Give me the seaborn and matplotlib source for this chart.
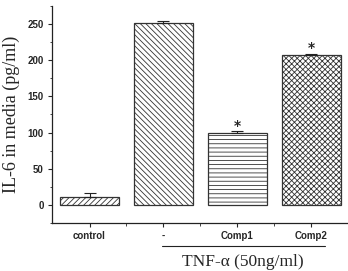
import numpy as np
import matplotlib
matplotlib.use("Agg")
import matplotlib.pyplot as plt
import matplotlib.transforms as mtransforms
import seaborn as sns
import pandas as pd

# data
groups = ["control", "-", "Comp1", "Comp2"]
il6 = [11, 252, 100, 207]
sem = [5, 2, 2, 2]
significant = [False, False, True, True]
hatches = ["//////", "\\\\\\\\\\\\", "----", "xxxxxx"]

df = pd.DataFrame({"group": groups, "il6": il6})

sns.set_style("ticks")
plt.rcParams["hatch.linewidth"] = 0.6

fig = plt.figure(figsize=(3.48, 2.71), dpi=100)
ax = fig.add_axes([0.149, 0.177, 0.851, 0.801])

sns.barplot(data=df, x="group", y="il6", color="white", edgecolor="#333333",
            linewidth=0.9, width=0.8, errorbar=None, ax=ax)
for bar, h in zip(ax.patches, hatches):
    bar.set_hatch(h)
    bar.set_facecolor("white")

x = np.arange(len(groups))
ax.errorbar(x, il6, yerr=[np.zeros(len(sem)), sem], fmt="none",
            ecolor="#222222", elinewidth=0.8, capsize=4, capthick=0.8)

for xi, yi, e, s in zip(x, il6, sem, significant):
    if s:
        ax.text(xi, yi + e - 2, "*", ha="center", va="bottom",
                fontsize=10, fontweight="bold")

ax.set_xlim(-0.51, 3.5)
ax.set_ylim(-25, 275)
ax.set_yticks([0, 50, 100, 150, 200, 250])
ax.set_yticks(np.arange(-25, 276, 25), minor=True)
ax.set_xticks([0.5, 1.5, 2.5], minor=True)

sns.despine(ax=ax)
for sp in ["left", "bottom"]:
    ax.spines[sp].set_linewidth(0.9)
    ax.spines[sp].set_color("#222222")

tick_font = dict(family=["Liberation Sans Narrow", "Liberation Sans", "DejaVu Sans"],
                 weight="bold", size=7)
ax.set_xticklabels(groups, fontdict=tick_font)
ax.set_yticklabels([str(v) for v in [0, 50, 100, 150, 200, 250]], fontdict=tick_font)
ax.tick_params(which="major", length=3, width=0.8, pad=3)
ax.tick_params(which="minor", length=1.8, width=0.6)

ax.set_xlabel("")
ax.set_ylabel("IL-6 in media (pg/ml)", family=["Liberation Serif"], size=13,
              labelpad=5)

# bracket line and label for TNF-alpha treated groups
trans = mtransforms.blended_transform_factory(ax.transData, fig.transFigure)
ax.plot([0.98, 3.19], [1 - 246 / 271] * 2, color="#222222", lw=0.8,
        transform=trans, clip_on=False)
ax.text(2.08, 1 - 262 / 271, "TNF-\u03b1 (50ng/ml)", transform=trans,
        ha="center", va="center", family=["Liberation Serif"], size=12.5)

fig.savefig("out.png", dpi=100)
